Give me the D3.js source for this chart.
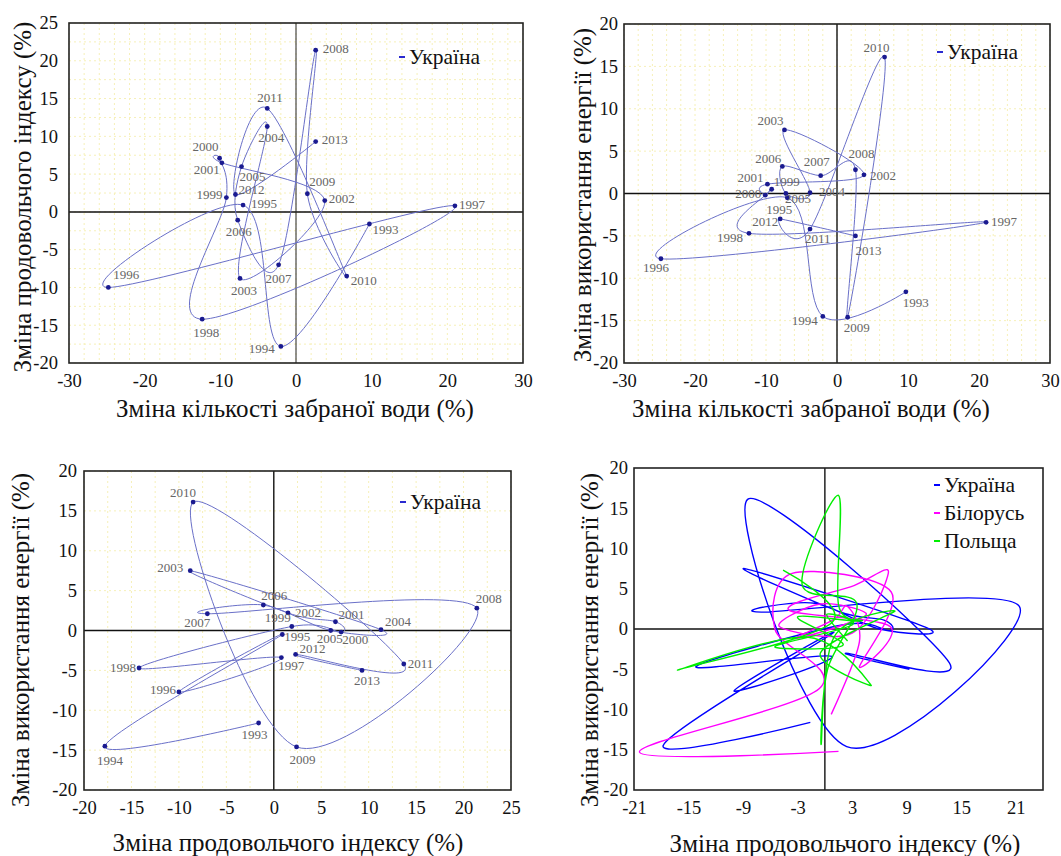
<!DOCTYPE html>
<html>
<head>
<meta charset="utf-8">
<script src="https://cdnjs.cloudflare.com/ajax/libs/d3/7.8.5/d3.min.js"></script>
<style>
body { margin: 0; background: #fff; }
svg text { font-family: "Liberation Serif", "DejaVu Serif", serif !important; }
</style>
</head>
<body>
<div class="chart-box"></div>
<script>
// years and the three Ukraine indicators (% change year on year)
var years = [1993,1994,1995,1996,1997,1998,1999,2000,2001,2002,2003,2004,2005,2006,2007,2008,2009,2010,2011,2012,2013];
var water_ua  = [9.7,-2.0,-7.0,-24.8,21.0,-12.4,-9.2,-10.1,-9.8,3.8,-7.4,-3.8,-7.2,-7.7,-2.3,2.6,1.5,6.7,-3.8,-8.0,2.6];
var food_ua   = [-1.6,-17.8,0.9,-10.0,0.8,-14.2,1.9,7.1,6.5,1.5,-8.8,11.3,6.0,-1.1,-7.0,21.4,2.4,-8.5,13.7,2.3,9.3];
var energy_ua = [-11.6,-14.5,-0.5,-7.7,-3.4,-4.7,0.5,-0.2,1.1,2.2,7.5,0.1,0.0,3.2,2.1,2.8,-14.6,16.1,-4.2,-3.0,-5.0];

var food_by   = [1.5,-20.4,-0.6,-5.5,-3.6,7.3,3.8,7.2,-4.0,3.2,7.0,3.0,-5.0,-0.5,4.5,2.0,-3.3,1.0,2.5,3.8,0.7];
var energy_by = [-15.2,-15.3,-7.4,0.0,6.9,4.6,-4.7,0.3,2.4,5.4,7.1,-0.5,0.3,3.1,2.0,0.5,-1.2,1.2,2.8,-1.6,-10.6];

var food_pl   = [-4.6,0.8,-16.2,-2.0,5.1,-0.5,7.7,1.0,-0.4,0.3,3.5,-2.5,1.5,1.5,4.0,-3.0,2.0,-5.5,3.0,0.2,2.5];
var energy_pl = [7.3,0.8,-5.1,-1.0,-7.0,-3.0,2.2,-1.0,-14.3,-5.0,3.2,5.5,16.6,3.0,1.0,1.5,-2.0,-2.2,0.5,1.8,-1.5];

var ticks_water  = [-30,-20,-10,0,10,20,30];
var ticks_food   = [-20,-15,-10,-5,0,5,10,15,20,25];
var ticks_food3  = [-20,-15,-10,-5,0,5,10,15,20,25];
var ticks_energy = [-20,-15,-10,-5,0,5,10,15,20];
var ticks_food4  = [-21,-15,-9,-3,3,9,15,21];

var country_names = ["Україна","Білорусь","Польща"];
var country_colors = ["#0000ff","#ff00ff","#00ee00"];

var title_water  = "Зміна кількості забраної води (%)";
var title_food   = "Зміна продовольчого індексу (%)";
var title_energy = "Зміна використання енергії (%)";

// label offsets (px) for the year labels, per panel
var lab1 = {1993:[3,10],1994:[-32,7],1995:[8,3],1996:[5,-8],1997:[4,3],1998:[-9,18],1999:[-30,1],2000:[-27,-7],2001:[-28,11],2002:[4,2],2003:[-9,17],2004:[-9,15],2005:[-2,14],2006:[-12,16],2007:[-13,18],2008:[7,3],2009:[2,-8],2010:[4,9],2011:[-10,-6],2012:[3,-1],2013:[6,2]};
var lab2 = {1993:[-3,15],1994:[-31,9],1995:[-21,16],1996:[-18,13],1997:[5,4],1998:[-32,9],1999:[2,-3],2000:[-30,3],2001:[-30,-2],2002:[6,5],2003:[-27,-5],2004:[9,3],2005:[-1,9],2006:[-27,-3],2007:[-17,-10],2008:[-7,-12],2009:[-4,15],2010:[-21,-5],2011:[-5,14],2012:[-28,7],2013:[0,19]};
var lab3 = {1993:[-17,16],1994:[-8,19],1995:[2,7],1996:[-29,2],1997:[-3,12],1998:[-29,4],1999:[-27,-5],2000:[1,12],2001:[3,-3],2002:[7,4],2003:[-33,1],2004:[4,-4],2005:[-14,12],2006:[-2,-5],2007:[-23,13],2008:[-1,-5],2009:[-7,17],2010:[-23,-5],2011:[4,4],2012:[4,-1],2013:[-8,15]};

var svg = d3.select(".chart-box").append("svg")
    .attr("width", 1061)
    .attr("height", 856);

var smooth = d3.curveCatmullRom.alpha(0);

function zip(xs, ys) {
  return xs.map(function(d, i) { return {x: d, y: ys[i], year: years[i]}; });
}

function draw_panel(cfg, idx) {
  var b = cfg.box;
  var x = d3.scaleLinear().domain(cfg.xdom).range([b.x, b.x + b.w]);
  var y = d3.scaleLinear().domain(cfg.ydom).range([b.y + b.h, b.y]);
  var g = svg.append("g");

  g.append("clipPath").attr("id", "clip" + idx)
    .append("rect").attr("x", b.x).attr("y", b.y).attr("width", b.w).attr("height", b.h);

  if (cfg.grid) {
    var gx = d3.range(cfg.xdom[0], cfg.xdom[1] + 0.01, cfg.gridx);
    var gy = d3.range(cfg.ydom[0], cfg.ydom[1] + 0.01, cfg.gridy);
    g.selectAll(".gx").data(gx).enter().append("line")
      .attr("x1", function(d) { return x(d); }).attr("x2", function(d) { return x(d); })
      .attr("y1", b.y).attr("y2", b.y + b.h)
      .attr("stroke", "#f6f0b8").attr("stroke-width", 1).attr("stroke-dasharray", "2,3");
    g.selectAll(".gy").data(gy).enter().append("line")
      .attr("y1", function(d) { return y(d); }).attr("y2", function(d) { return y(d); })
      .attr("x1", b.x).attr("x2", b.x + b.w)
      .attr("stroke", "#f6f0b8").attr("stroke-width", 1).attr("stroke-dasharray", "2,3");
  }

  // zero axes
  g.append("line").attr("x1", b.x).attr("x2", b.x + b.w)
    .attr("y1", y(0)).attr("y2", y(0)).attr("stroke", "#111").attr("stroke-width", 1.5);
  g.append("line").attr("x1", x(0)).attr("x2", x(0))
    .attr("y1", b.y).attr("y2", b.y + b.h).attr("stroke", "#222").attr("stroke-width", cfg.zeroW);

  var line = d3.line()
    .x(function(d) { return x(d.x); })
    .y(function(d) { return y(d.y); })
    .curve(smooth);

  cfg.series.forEach(function(s) {
    g.append("path")
      .datum(s.pts)
      .attr("clip-path", "url(#clip" + idx + ")")
      .attr("fill", "none")
      .attr("stroke", s.color)
      .attr("stroke-width", s.width)
      .attr("d", line);
  });

  if (cfg.labels) {
    var pts = cfg.series[0].pts;
    g.selectAll(".dot").data(pts).enter().append("circle")
      .attr("cx", function(d) { return x(d.x); })
      .attr("cy", function(d) { return y(d.y); })
      .attr("r", 2.4)
      .attr("fill", "#1a1a90");
    g.selectAll(".lab").data(pts).enter().append("text")
      .attr("x", function(d) { return x(d.x) + cfg.labels[d.year][0]; })
      .attr("y", function(d) { return y(d.y) + cfg.labels[d.year][1]; })
      .attr("font-size", 13)
      .attr("fill", "#666")
      .text(function(d) { return d.year; });
  }

  // frame
  g.append("rect").attr("x", b.x).attr("y", b.y).attr("width", b.w).attr("height", b.h)
    .attr("fill", "none").attr("stroke", "#222").attr("stroke-width", 1.6);

  var fmt = function(d) { return String(d); };
  var ax = g.append("g")
    .attr("transform", "translate(0," + (b.y + b.h) + ")")
    .call(d3.axisBottom(x).tickValues(cfg.xticks).tickSize(0).tickPadding(11).tickFormat(fmt));
  var ay = g.append("g")
    .attr("transform", "translate(" + b.x + ",0)")
    .call(d3.axisLeft(y).tickValues(cfg.yticks).tickSize(0).tickPadding(cfg.ypad).tickFormat(fmt));
  [ax, ay].forEach(function(a) {
    a.attr("font-family", null);
    a.select(".domain").remove();
    a.selectAll("text").attr("font-size", 18.5).attr("fill", "#111");
  });

  g.append("text")
    .attr("x", cfg.xtitle[1]).attr("y", cfg.xtitle[2])
    .attr("text-anchor", "middle").attr("font-size", 25).attr("fill", "#111")
    .text(cfg.xtitle[0]);
  g.append("text")
    .attr("transform", "translate(" + cfg.ytitle[1] + "," + cfg.ytitle[2] + ") rotate(-90)")
    .attr("text-anchor", "middle").attr("font-size", 25).attr("fill", "#111")
    .text(cfg.ytitle[0]);

  // legend
  cfg.series.forEach(function(s, i) {
    var ly = cfg.legend[1] + i * 28;
    g.append("line").attr("x1", cfg.legend[0]).attr("x2", cfg.legend[0] + 6)
      .attr("y1", ly).attr("y2", ly).attr("stroke", s.legendColor || s.color).attr("stroke-width", 2);
    g.append("text").attr("x", cfg.legend[0] + 10).attr("y", ly + 7)
      .attr("font-size", 21.5).attr("fill", "#111").text(s.name);
  });
}

var ua_line = "#6a70c8";

var panels = [
  {box: {x: 69, y: 23, w: 454, h: 340}, xdom: [-30, 30], ydom: [-20, 25],
   xticks: ticks_water, yticks: ticks_food, ypad: 11, grid: true, gridx: 2, gridy: 2.5, zeroW: 1,
   xtitle: [title_water, 295, 417], ytitle: [title_food, 31, 197], legend: [399, 57], labels: lab1,
   series: [{name: country_names[0], pts: zip(water_ua, food_ua), color: ua_line, width: 1, legendColor: "#2a2ad0"}]},
  {box: {x: 624, y: 24, w: 426, h: 339}, xdom: [-30, 30], ydom: [-20, 20],
   xticks: ticks_water, yticks: ticks_energy, ypad: 6, grid: true, gridx: 2, gridy: 5, zeroW: 1.5,
   xtitle: [title_water, 811, 417], ytitle: [title_energy, 591, 195], legend: [937, 52], labels: lab2,
   series: [{name: country_names[0], pts: zip(water_ua, energy_ua), color: ua_line, width: 1, legendColor: "#2a2ad0"}]},
  {box: {x: 84, y: 471, w: 427, h: 319}, xdom: [-20, 25], ydom: [-20, 20],
   xticks: ticks_food3, yticks: ticks_energy, ypad: 7, grid: true, gridx: 2.5, gridy: 5, zeroW: 1.5,
   xtitle: [title_food, 288, 851], ytitle: [title_energy, 29, 640], legend: [400, 502], labels: lab3,
   series: [{name: country_names[0], pts: zip(food_ua, energy_ua), color: ua_line, width: 1, legendColor: "#2a2ad0"}]},
  {box: {x: 634, y: 468, w: 409, h: 322}, xdom: [-21, 24], ydom: [-20, 20],
   xticks: ticks_food4, yticks: ticks_energy, ypad: 6, grid: false, zeroW: 1.5,
   xtitle: [title_food, 845, 852], ytitle: [title_energy, 598, 640], legend: [934, 485], labels: null,
   series: [
     {name: country_names[0], pts: zip(food_ua, energy_ua), color: country_colors[0], width: 1.4},
     {name: country_names[1], pts: zip(food_by, energy_by), color: country_colors[1], width: 1.4},
     {name: country_names[2], pts: zip(food_pl, energy_pl), color: country_colors[2], width: 1.4}
   ]}
];

panels.forEach(draw_panel);
</script>
</body>
</html>
